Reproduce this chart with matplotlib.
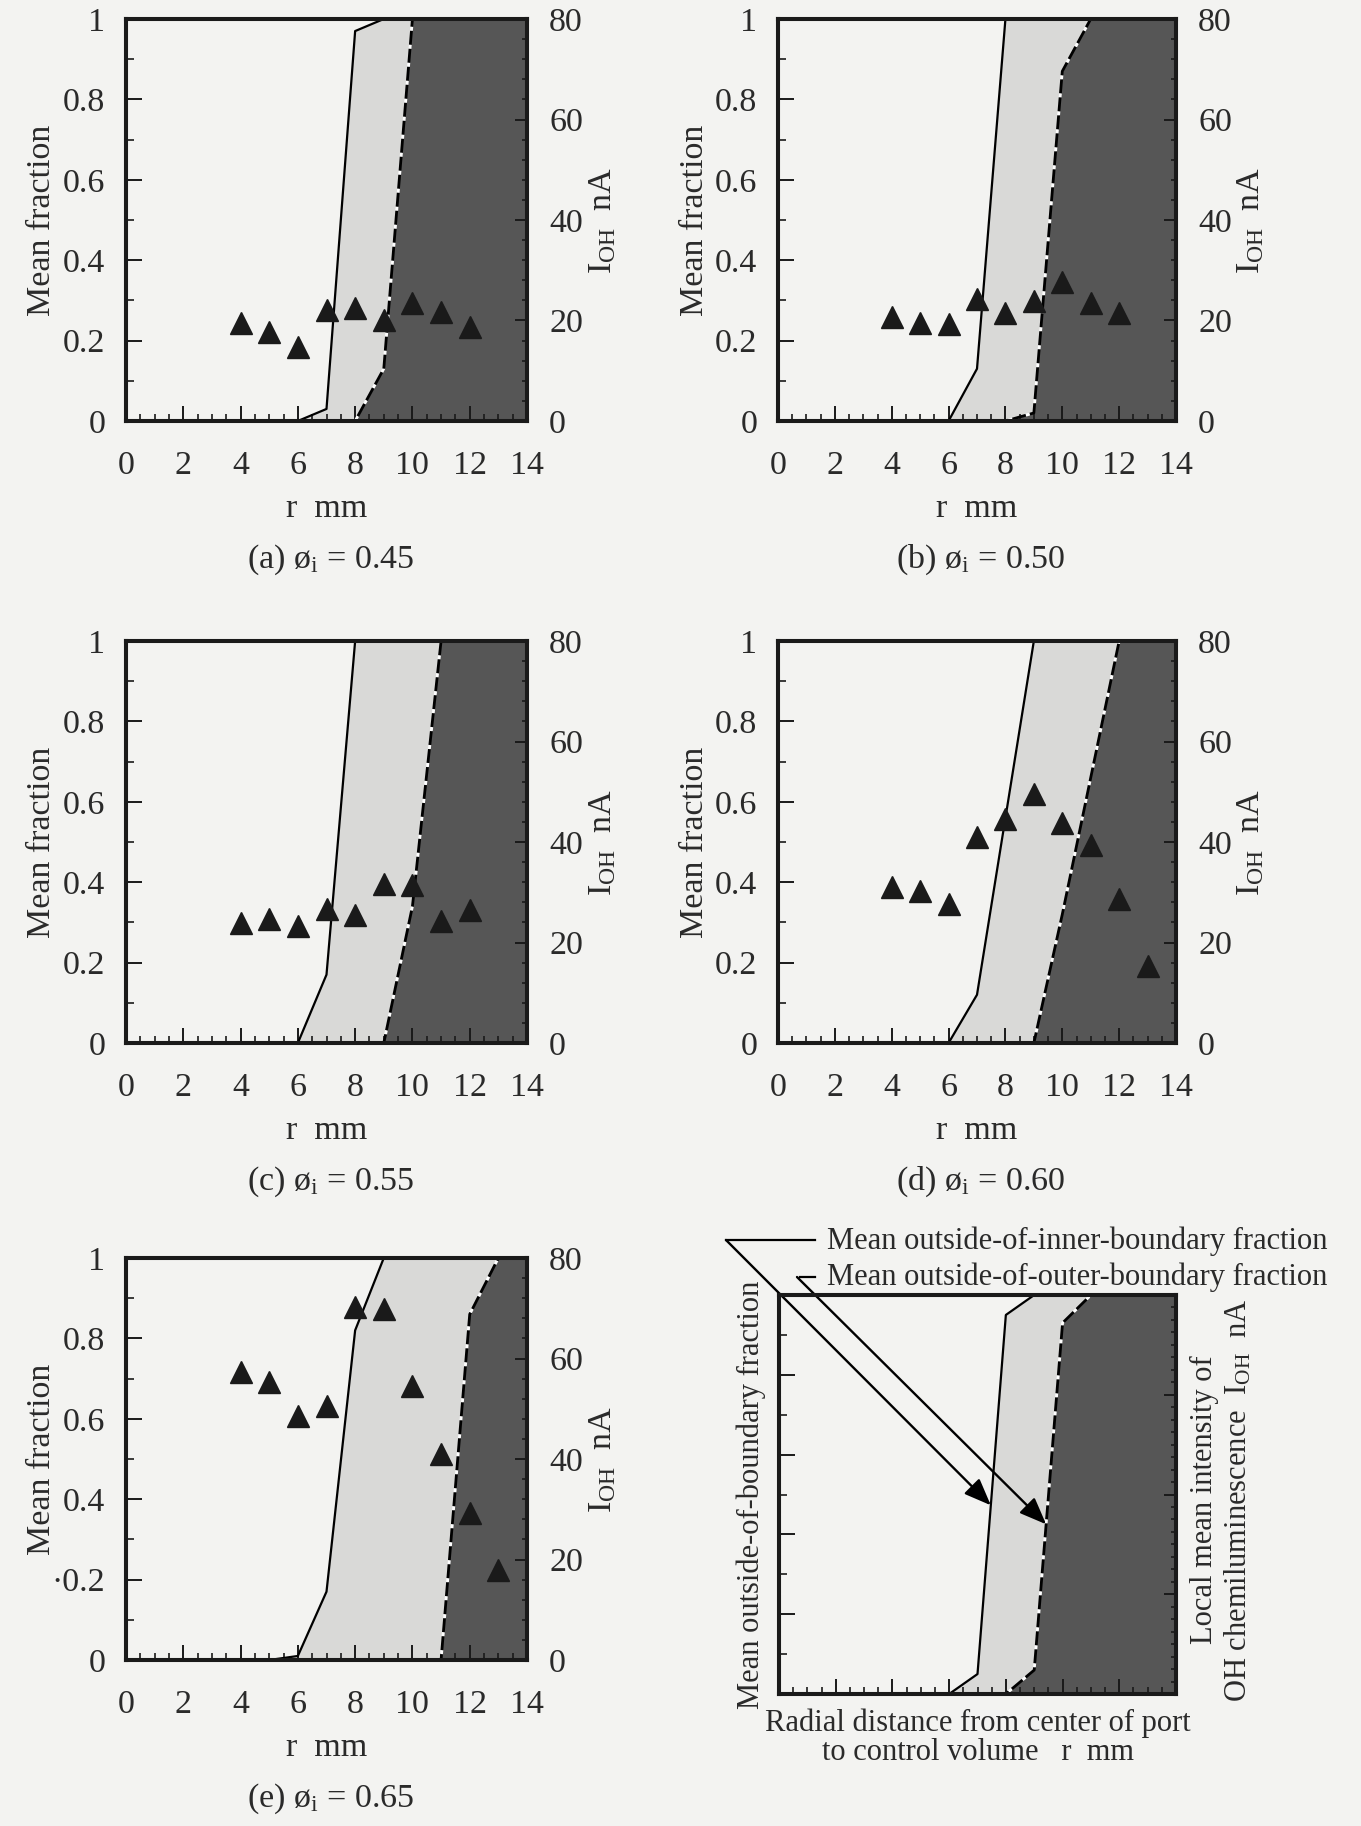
import numpy as np
import matplotlib
matplotlib.use('Agg')
import matplotlib.pyplot as plt
from matplotlib.ticker import MultipleLocator
from matplotlib.lines import Line2D

plt.rcParams['font.family'] = ['Liberation Serif', 'DejaVu Serif']
plt.rcParams['mathtext.fontset'] = 'custom'
plt.rcParams['mathtext.rm'] = 'Liberation Serif'
plt.rcParams['mathtext.it'] = 'Liberation Serif:italic'

# ---- data ----
# OH chemiluminescence (nA) at radial positions r (mm)
r_pts_9 = [4, 5, 6, 7, 8, 9, 10, 11, 12]
r_pts_10 = [4, 5, 6, 7, 8, 9, 10, 11, 12, 13]
ioh_a = [19.6, 17.8, 14.8, 22.0, 22.4, 20.0, 23.4, 21.6, 18.7]
ioh_b = [20.6, 19.5, 19.4, 24.2, 21.4, 23.8, 27.6, 23.5, 21.4]
ioh_c = [23.9, 24.6, 23.2, 26.6, 25.5, 31.7, 31.5, 24.3, 26.5]
ioh_d = [31.1, 30.2, 27.7, 41.0, 44.6, 49.6, 43.8, 39.5, 28.7, 15.4]
ioh_e = [57.4, 55.4, 48.5, 50.6, 70.2, 69.8, 54.5, 40.9, 29.2, 17.9]

# mean outside-of-inner-boundary fraction (solid) / outer-boundary fraction (dashed)
inner_r_a = [0, 6, 7, 8, 9, 14]
inner_f_a = [0, 0, 0.03, 0.97, 1, 1]
outer_r_a = [0, 8, 9, 10, 14]
outer_f_a = [0, 0, 0.13, 1, 1]

inner_r_b = [0, 6, 7, 8, 14]
inner_f_b = [0, 0, 0.13, 1, 1]
outer_r_b = [0, 8, 9, 10, 11, 14]
outer_f_b = [0, 0, 0.02, 0.87, 1, 1]

inner_r_c = [0, 6, 7, 8, 14]
inner_f_c = [0, 0, 0.17, 1, 1]
outer_r_c = [0, 9, 10, 11, 14]
outer_f_c = [0, 0, 0.34, 1, 1]

inner_r_d = [0, 6, 7, 8, 9, 14]
inner_f_d = [0, 0, 0.12, 0.56, 1, 1]
outer_r_d = [0, 9, 10, 11, 12, 14]
outer_f_d = [0, 0, 0.32, 0.66, 1, 1]

inner_r_e = [0, 5, 6, 7, 8, 9, 14]
inner_f_e = [0, 0, 0.01, 0.17, 0.82, 1, 1]
outer_r_e = [0, 11, 12, 13, 14]
outer_f_e = [0, 0, 0.86, 1, 1]

# schematic panel
inner_r_s = [0, 6, 7, 8, 9, 14]
inner_f_s = [0, 0, 0.05, 0.95, 1, 1]
outer_r_s = [0, 8, 9, 10, 11, 14]
outer_f_s = [0, 0, 0.06, 0.93, 1, 1]

captions = ['(a) ø$_\\mathrm{i}$ = 0.45', '(b) ø$_\\mathrm{i}$ = 0.50',
            '(c) ø$_\\mathrm{i}$ = 0.55', '(d) ø$_\\mathrm{i}$ = 0.60',
            '(e) ø$_\\mathrm{i}$ = 0.65']
yticks_left = [0, 0.2, 0.4, 0.6, 0.8, 1]
ylabels_left = ['0', '0.2', '0.4', '0.6', '0.8', '1']
ylabels_left_e = ['0', '·0.2', '0.4', '0.6', '0.8', '1']

BG = '#f3f3f1'
LIGHT = '#d9d9d7'
DARK = '#565656'
TXT = '#2a2a2a'
FS = 24.5

W, H = 1361, 1826
fig = plt.figure(figsize=(W / 100, H / 100), dpi=100, facecolor=BG)


def add_axes_px(x0, y0, w, h):
    return fig.add_axes([x0 / W, 1 - (y0 + h) / H, w / W, h / H])


def draw_profile(ax, rin, fin, rout, fout):
    r = np.union1d(rin, rout)
    f_in = np.interp(r, rin, fin)
    f_out = np.interp(r, rout, fout)
    ax.fill_between(r, f_out, f_in, color=LIGHT, lw=0)
    ax.fill_between(r, 0, f_out, color=DARK, lw=0)
    ax.plot(rin, fin, color='k', lw=1.6)
    ax.plot(rout, fout, color='k', lw=2.0, linestyle=(0, (5, 1.5)), gapcolor='white')


def style_frame(ax, ax2, labels=True, ylab=ylabels_left):
    ax.set_facecolor(BG)
    ax.set_xlim(0, 14)
    ax.set_ylim(0, 1)
    ax2.set_ylim(0, 80)
    for a in (ax, ax2):
        for s in a.spines.values():
            s.set_linewidth(2.9)
            s.set_color('#1a1a1a')
    ax.xaxis.set_major_locator(MultipleLocator(2))
    ax.xaxis.set_minor_locator(MultipleLocator(0.5))
    ax.set_yticks(yticks_left)
    ax.yaxis.set_minor_locator(MultipleLocator(0.1))
    ax2.yaxis.set_major_locator(MultipleLocator(20))
    ax2.yaxis.set_minor_locator(MultipleLocator(4))
    ax.tick_params(which='both', direction='in', top=False, right=False, colors='#1a1a1a',
                   labelcolor=TXT, labelsize=FS)
    ax.tick_params(axis='x', which='major', length=11, width=1.4, pad=21)
    ax.tick_params(axis='x', which='minor', length=5, width=1.2)
    ax.tick_params(axis='y', which='major', length=11.5, width=1.4, pad=15)
    ax.tick_params(axis='y', which='minor', length=5.5, width=1.2)
    ax2.tick_params(which='both', direction='in', colors='#1a1a1a', labelcolor=TXT, labelsize=FS)
    ax2.tick_params(axis='y', which='major', length=8.5, width=1.4, pad=16)
    ax2.tick_params(axis='y', which='minor', length=3.6, width=1.2)
    if labels:
        ax.set_yticklabels(ylab)
    else:
        ax.set_yticklabels([])
        ax.set_xticklabels([])
        ax2.set_yticklabels([])


panels = [
    ((126, 19), r_pts_9, ioh_a, inner_r_a, inner_f_a, outer_r_a, outer_f_a),
    ((778, 19), r_pts_9, ioh_b, inner_r_b, inner_f_b, outer_r_b, outer_f_b),
    ((126, 641), r_pts_9, ioh_c, inner_r_c, inner_f_c, outer_r_c, outer_f_c),
    ((778, 641), r_pts_10, ioh_d, inner_r_d, inner_f_d, outer_r_d, outer_f_d),
    ((126, 1258), r_pts_10, ioh_e, inner_r_e, inner_f_e, outer_r_e, outer_f_e),
]

for i, (pos, rp, ioh, rin, fin, rout, fout) in enumerate(panels):
    w = 401 if pos[0] < 500 else 398
    ax = add_axes_px(pos[0], pos[1], w, 402)
    draw_profile(ax, rin, fin, rout, fout)
    ax2 = ax.twinx()
    ax2.plot(rp, ioh, linestyle='none', marker='^', ms=16, color='#1a1a1a')
    style_frame(ax, ax2, ylab=ylabels_left_e if i == 4 else ylabels_left)
    ax.set_xlabel('r  mm', fontsize=FS, color=TXT)
    ax.xaxis.set_label_coords(0.5, -0.18)
    ax.set_ylabel('Mean fraction', fontsize=FS, color=TXT)
    ax.yaxis.set_label_coords(-0.172, 0.5)
    ax2.set_ylabel('I$_\\mathrm{OH}$  nA', fontsize=FS, color=TXT)
    ax2.yaxis.set_label_coords(1.15, 0.5)
    ax.text(0.51, -0.365, captions[i], transform=ax.transAxes, ha='center',
            va='baseline', fontsize=FS, color=TXT)

# ---- schematic legend panel ----
axs = add_axes_px(779, 1295, 397, 399)
draw_profile(axs, inner_r_s, inner_f_s, outer_r_s, outer_f_s)
axs2 = axs.twinx()
style_frame(axs, axs2, labels=False)
axs2.yaxis.set_minor_locator(MultipleLocator(2.5))

FS2 = 22
axs.text(-0.07, 0.5, 'Mean outside-of-boundary fraction', transform=axs.transAxes,
         rotation=90, ha='center', va='center', fontsize=FS2, color=TXT)
axs.text(1.115, 0.487, 'Local mean intensity of\nOH chemiluminescence  I$_\\mathrm{OH}$  nA',
         transform=axs.transAxes, rotation=90, ha='center', va='center',
         multialignment='center', linespacing=1.2, fontsize=FS2, color=TXT)
axs.text(0.5, -0.109, 'Radial distance from center of port\nto control volume   r  mm',
         transform=axs.transAxes, ha='center', va='center', linespacing=1.0,
         fontsize=FS2, color=TXT)

fig.text(827 / W, 1 - 1241 / H, 'Mean outside-of-inner-boundary fraction',
         va='center', ha='left', fontsize=FS2, color=TXT)
fig.text(827 / W, 1 - 1277 / H, 'Mean outside-of-outer-boundary fraction',
         va='center', ha='left', fontsize=FS2, color=TXT)

fig.add_artist(Line2D([726 / W, 815 / W], [1 - 1240 / H, 1 - 1240 / H], color='k', lw=1.6))
fig.add_artist(Line2D([800 / W, 815 / W], [1 - 1277 / H, 1 - 1277 / H], color='k', lw=1.6))

tip_inner = 7.47
tip_outer = 9.42
arrow_kw = dict(arrowstyle='-|>,head_length=0.75,head_width=0.3', color='k', lw=1.7,
                shrinkA=0, shrinkB=0, mutation_scale=22)
axs.annotate('', xy=(tip_inner, np.interp(tip_inner, inner_r_s, inner_f_s)),
             xytext=(726, H - 1240), textcoords='figure pixels',
             arrowprops=arrow_kw, annotation_clip=False)
axs.annotate('', xy=(tip_outer, np.interp(tip_outer, outer_r_s, outer_f_s)),
             xytext=(797, H - 1277), textcoords='figure pixels',
             arrowprops=arrow_kw, annotation_clip=False)

fig.savefig('out.png', dpi=100, facecolor=BG)
